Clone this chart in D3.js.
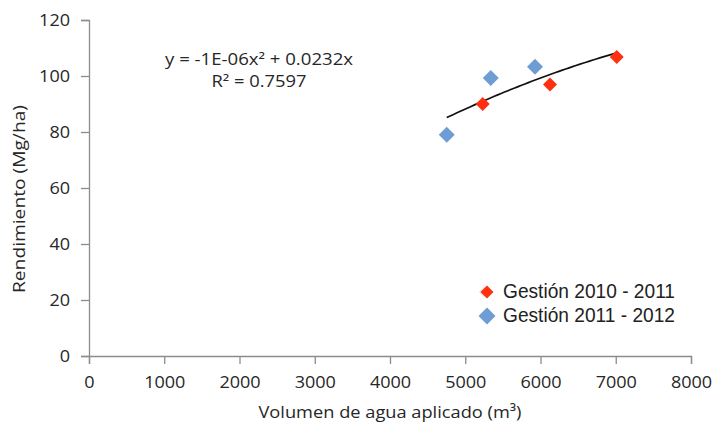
<!DOCTYPE html>
<html><head><meta charset="utf-8">
<script src="https://cdn.jsdelivr.net/npm/d3@7"></script>
<style>body{margin:0;background:#fff}svg{display:block}text{font-family:"Open Sans","Liberation Sans",sans-serif}</style>
</head><body><svg id="c" width="715" height="423"></svg>
<script>
const series1Name = "Gestión 2010 - 2011";
const series1X = [5232, 6126, 7013];
const series1Y = [90, 97, 106.8];
const series2Name = "Gestión 2011 - 2012";
const series2X = [4754, 5339, 5927];
const series2Y = [79, 99.3, 103.3];
const xTicks = [0,1000,2000,3000,4000,5000,6000,7000,8000];
const yTicks = [0,20,40,60,80,100,120];
const eqLine1 = "y = -1E-06x² + 0.0232x";
const eqLine2 = "R² = 0.7597";

const svg = d3.select("#c");
const x = d3.scaleLinear().domain([0,8000]).range([89,691]);
const y = d3.scaleLinear().domain([0,120]).range([356,20]);
const axisColor = "#8c8c8c", textColor = "#262626";

// axes
const gx = svg.append("g").attr("transform","translate(0,356)")
  .call(d3.axisBottom(x).tickValues(xTicks).tickSize(8).tickPadding(12).tickFormat(d3.format("d")));
const gy = svg.append("g").attr("transform","translate(89,0)")
  .call(d3.axisLeft(y).tickValues(yTicks).tickSize(8).tickPadding(11));
[gx,gy].forEach(g=>{
  g.select(".domain").attr("stroke",axisColor).attr("stroke-width",1.3);
  g.selectAll(".tick line").attr("stroke",axisColor).attr("stroke-width",1.3);
  g.selectAll(".tick text").attr("fill",textColor)
    .style("font-size","16px").style("font-family","'Open Sans',sans-serif")
    .attr("textLength",d=>String(d).length*10.3).attr("lengthAdjust","spacingAndGlyphs");
});
gx.selectAll(".tick text").attr("dy","0.72em");
gy.selectAll(".tick text").attr("dy","0.36em");

// axis titles
svg.append("text").attr("x",390).attr("y",417.5).attr("text-anchor","middle")
  .attr("fill",textColor).style("font-size","16.8px")
  .attr("textLength",263).attr("lengthAdjust","spacingAndGlyphs")
  .text("Volumen de agua aplicado (m³)");
svg.append("text").attr("transform","translate(25,199) rotate(-90)").attr("text-anchor","middle")
  .attr("fill",textColor).style("font-size","16px")
  .attr("textLength",188).attr("lengthAdjust","spacingAndGlyphs")
  .text("Rendimiento (Mg/ha)");

// trendline: least squares y = a x^2 + b x through origin
const allX = series1X.concat(series2X), allY = series1Y.concat(series2Y);
let s4=0,s3=0,s2=0,sx2y=0,sxy=0;
allX.forEach((xi,i)=>{const yi=allY[i];s4+=xi**4;s3+=xi**3;s2+=xi**2;sx2y+=xi*xi*yi;sxy+=xi*yi;});
const det = s4*s2 - s3*s3;
const a = (sx2y*s2 - sxy*s3)/det, b = (s4*sxy - s3*sx2y)/det;
const xmin = d3.min(allX), xmax = d3.max(allX);
const pts = d3.range(0,51).map(i=>{const xv=xmin+(xmax-xmin)*i/50;return [xv,a*xv*xv+b*xv];});
svg.append("path").datum(pts)
  .attr("d",d3.line().x(d=>x(d[0])).y(d=>y(d[1])))
  .attr("fill","none").attr("stroke","#111").attr("stroke-width",1.7);

// markers
const diamond = (s)=>`M0,${-s}L${s},0L0,${s}L${-s},0Z`;
function drawSeries(xs,ys,color,size){
  svg.append("g").selectAll("path").data(xs.map((v,i)=>[v,ys[i]])).join("path")
    .attr("transform",d=>`translate(${x(d[0])},${y(d[1])})`)
    .attr("d",diamond(size)).attr("fill",color);
}
drawSeries(series2X,series2Y,"#6e9dd4",8);
drawSeries(series1X,series1Y,"#ff3010",7);

// equation
svg.append("text").attr("x",259).attr("y",65).attr("text-anchor","middle")
  .attr("fill",textColor).style("font-size","15.5px")
  .attr("textLength",188).attr("lengthAdjust","spacingAndGlyphs").text(eqLine1);
svg.append("text").attr("x",259).attr("y",86.7).attr("text-anchor","middle")
  .attr("fill",textColor).style("font-size","15.5px")
  .attr("textLength",95).attr("lengthAdjust","spacingAndGlyphs").text(eqLine2);

// legend
const leg = [[series1Name,"#ff3010",6.5],[series2Name,"#6e9dd4",8.5]];
leg.forEach((l,i)=>{
  const yy = 292 + i*24;
  if(i===0) svg.append("path").attr("transform",`translate(484,${yy})`).attr("d",diamond(5)).attr("fill","#ccc").attr("opacity",0.6);
  svg.append("path").attr("transform",`translate(487,${yy})`).attr("d",diamond(l[2])).attr("fill",l[1]);
  svg.append("text").attr("x",503).attr("y",yy+5.7).attr("fill","#222")
    .style("font-family","'Liberation Sans',Arial,sans-serif").style("font-size","19.5px")
    .attr("textLength",172).attr("lengthAdjust","spacingAndGlyphs").text(l[0]);
});
</script></body></html>
